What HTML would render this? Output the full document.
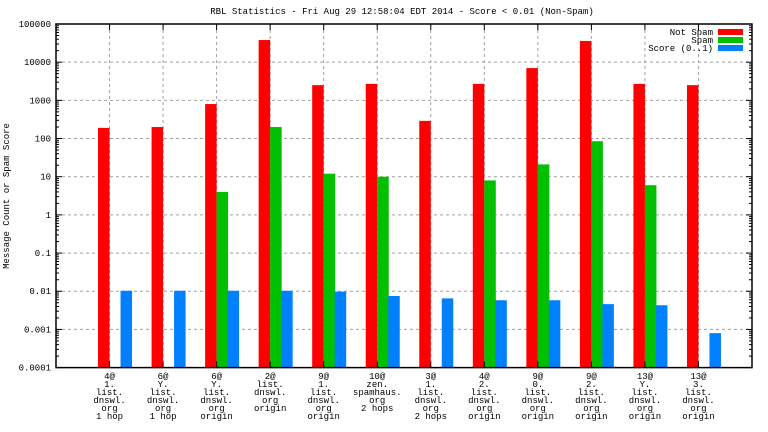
<!DOCTYPE html>
<html><head><meta charset="utf-8"><style>
html,body{margin:0;padding:0;background:#fff;}
svg{display:block;font-family:"Liberation Mono","DejaVu Sans Mono",monospace;font-size:9px;}
</style></head><body>
<svg id="chart" width="768" height="432" xmlns="http://www.w3.org/2000/svg">
<rect width="768" height="432" fill="#fff"/>
<text x="402" y="14" text-anchor="middle">RBL Statistics - Fri Aug 29 12:58:04 EDT 2014 - Score &lt; 0.01 (Non-Spam)</text>
<text transform="translate(9,196) rotate(-90)" text-anchor="middle">Message Count or Spam Score</text>
<g id="grid"></g><g id="bars"></g><g id="axes"></g><g id="labels"></g>
<g>
<text x="713" y="35" text-anchor="end">Not Spam</text><rect x="718" y="29" width="25" height="6" fill="#ff0000"/>
<text x="713" y="43" text-anchor="end">Spam</text><rect x="718" y="37" width="25" height="6" fill="#00c000"/>
<text x="713" y="51" text-anchor="end">Score (0..1)</text><rect x="718" y="45" width="25" height="6" fill="#0080ff"/>
</g>
</svg>
<script>
const categories=[["4@","1.","list.","dnswl.","org","1 hop"],["6@","Y.","list.","dnswl.","org","1 hop"],["6@","Y.","list.","dnswl.","org","origin"],["2@","list.","dnswl.","org","origin"],["9@","1.","list.","dnswl.","org","origin"],["10@","zen.","spamhaus.","org","2 hops"],["3@","1.","list.","dnswl.","org","2 hops"],["4@","2.","list.","dnswl.","org","origin"],["9@","0.","list.","dnswl.","org","origin"],["9@","2.","list.","dnswl.","org","origin"],["13@","Y.","list.","dnswl.","org","origin"],["13@","3.","list.","dnswl.","org","origin"]];
const notSpam=[190,200,800,38000,2500,2700,290,2700,7000,36000,2700,2500];
const spam=[0,0,4,200,12,10,0,8,21,85,6,0];
const score=[0.0103,0.0103,0.0103,0.0103,0.0098,0.0075,0.0065,0.0058,0.0058,0.0046,0.0043,0.0008];
const yTicks=["100000","10000","1000","100","10","1","0.1","0.01","0.001","0.0001"];
const NS="http://www.w3.org/2000/svg";
const L=56,R=752,T=24,B=367.6;
const dec=(B-T)/9;
function y(v){return T+(5-Math.log10(v))*dec;}
function x(i){return L+(R-L)/(categories.length+1)*(i+1);}
function mk(p,tag,a){const e=document.createElementNS(NS,tag);for(const k in a)e.setAttribute(k,a[k]);p.appendChild(e);return e;}
const grid=document.getElementById('grid'),bars=document.getElementById('bars'),axes=document.getElementById('axes'),labels=document.getElementById('labels');
yTicks.forEach((t,k)=>{const v=parseFloat(t);const yy=y(v);
 if(k>0&&k<9){const g=mk(grid,'line',{x1:L,x2:R,y1:yy,y2:yy,stroke:'#a0a0a0','stroke-dasharray':'3,3'});
 }
 const tx=mk(axes,'text',{x:L-5,y:yy+3,'text-anchor':'end'});tx.textContent=t;
 
 mk(axes,'line',{x1:L,x2:L+6,y1:yy,y2:yy,stroke:'#000'});mk(axes,'line',{x1:R,x2:R-6,y1:yy,y2:yy,stroke:'#000'});
 if(k<9)for(let m=2;m<10;m++){const my=y(v/10*m);mk(axes,'line',{x1:L,x2:L+3,y1:my,y2:my,stroke:'#000'});mk(axes,'line',{x1:R,x2:R-3,y1:my,y2:my,stroke:'#000'});}
});
categories.forEach((c,i)=>{const cx=x(i);
 const g=mk(grid,'line',{x1:cx,x2:cx,y1:T,y2:B,stroke:'#a0a0a0','stroke-dasharray':'3,3'});
 
 const series=[[notSpam[i],'#ff0000',cx-11.5,'bar-not-spam'],[spam[i],'#00c000',cx,'bar-spam'],[score[i],'#0080ff',cx+11,'bar-score']];
 series.forEach(s=>{if(s[0]>0){const yy=y(s[0]);const r=mk(bars,'rect',{x:s[2],y:yy,width:11.5,height:B-yy,fill:s[1]});
  }});
 mk(axes,'line',{x1:cx,x2:cx,y1:B,y2:B-6,stroke:'#000'});mk(axes,'line',{x1:cx,x2:cx,y1:T,y2:T+6,stroke:'#000'});
 const t=mk(labels,'text',{x:cx,y:379,'text-anchor':'middle'});
 
 c.forEach((ln,j)=>{const ts=mk(t,'tspan',{x:cx,dy:j?8:0});ts.textContent=ln;});
});
const fr=mk(axes,'rect',{x:L,y:T,width:R-L,height:B-T,fill:'none',stroke:'#000','stroke-width':1.5});

</script>
</body></html>
